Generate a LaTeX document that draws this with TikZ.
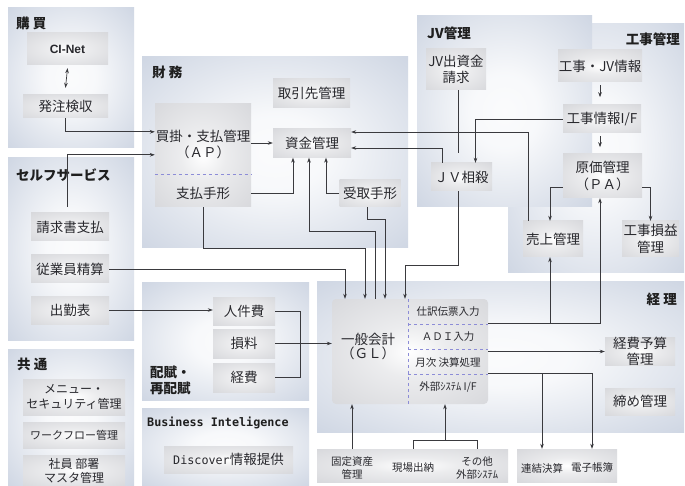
\documentclass[tikz,border=0pt]{standalone}
\usepackage{fontspec}
\setmainfont{Noto Sans CJK JP}
\setmonofont[Scale=0.87]{DejaVu Sans Mono}
\newfontfamily\arialfont{Liberation Sans}
\usetikzlibrary{arrows.meta,calc}
\definecolor{panelblue}{RGB}{203,211,225}
\definecolor{boxgray}{RGB}{212,213,217}
\definecolor{wiregray}{RGB}{58,58,62}
\definecolor{sepblue}{RGB}{140,140,215}
\definecolor{textgray}{RGB}{40,40,45}
\pgfdeclareradialshading{panelglow}{\pgfpointorigin}{color(0bp)=(white!92!panelblue); color(10bp)=(white!85!panelblue); color(38bp)=(panelblue); color(50bp)=(panelblue)}
\pgfdeclareradialshading{boxglow}{\pgfpointorigin}{color(0bp)=(white); color(12bp)=(white!55!boxgray); color(40bp)=(boxgray); color(50bp)=(boxgray)}
\begin{document}
\begin{tikzpicture}[x=1pt,y=-1pt,
    panel/.style={shading=panelglow},
    sz/.style 2 args={minimum width=#1pt,minimum height=#2pt},
    blk/.style={shade,shading=boxglow,inner sep=0pt,align=center,text=textgray,font=\fontsize{13.5}{16.5}\selectfont},
    lbl/.style={inner sep=0pt,align=center,text=textgray,font=\fontsize{13.5}{16.5}\selectfont},
    small/.style={font=\fontsize{10.5}{13}\selectfont},
    ttl/.style={inner sep=0pt,align=left,text=black!88,font=\bfseries\fontsize{13.5}{16}\selectfont},
    conn/.style={draw=wiregray,line width=0.7pt,>={Stealth[length=5pt,width=3.6pt]},->},
    wire/.style={draw=wiregray,line width=0.7pt},
    sep/.style={draw=sepblue,dashed,line width=0.6pt}]
\useasboundingbox (0,0) rectangle (685,486);
\fill[white] (0,0) rectangle (685,486);

\shade[panel] (8,8) rectangle (134,148);
\shade[panel] (8,158) rectangle (134,340);
\shade[panel] (8,349) rectangle (134,486);
\shade[panel] (142,57) rectangle (408,248);
\shade[panel] (142,283) rectangle (309,400);
\shade[panel] (142,408) rectangle (309,486);
\shade[panel] (317,282) rectangle (684,432);
\shade[panel] (508,24) rectangle (684,273);
\shade[panel] (417,16) rectangle (592,207);

\node[ttl,anchor=west] (t-kobai) at (16,23) {購 買};
\node[ttl,anchor=west] (t-self) at (16,175) {セルフサービス};
\node[ttl,anchor=west] (t-kyotsu) at (17,364) {共 通};
\node[ttl,anchor=west] (t-zaimu) at (152,72) {財 務};
\node[ttl,anchor=west] (t-haifu) at (150,380) {配賦・\\再配賦};
\node[ttl,anchor=west,font=\ttfamily\bfseries\fontsize{13.5}{16}\selectfont] (t-bi) at (147,423) {Business Inteligence};
\node[ttl,anchor=east] (t-keiri) at (677,299) {経 理};
\node[ttl,anchor=west] (t-jv) at (427,33) {JV管理};
\node[ttl,anchor=east] (t-koji) at (680,39) {工事管理};

\node[blk,sz={81}{32},font=\arialfont\bfseries\fontsize{12}{14}\selectfont] (cinet) at (67.5,49) {CI-Net};
\node[blk,sz={85}{23}] (hatchu) at (65.5,106.5) {発注検収};

\node[blk,sz={78}{28}] (seikyu) at (70,227) {請求書支払};
\node[blk,sz={78}{28}] (jugyoin) at (70,269) {従業員精算};
\node[blk,sz={78}{28}] (kinmu) at (70,310) {出勤表};

\node[blk,sz={102}{36},font=\fontsize{12}{15}\selectfont] (menu) at (74,397) {メニュー・\\セキュリティ管理};
\node[blk,sz={102}{26},font=\fontsize{11}{14}\selectfont] (workflow) at (74,435) {ワークフロー管理};
\node[blk,sz={102}{31},font=\fontsize{12}{14}\selectfont] (master) at (74,470.5) {社員 部署\\マスタ管理};

\node[blk,sz={96}{103}] (kaikake) at (203,155.5) {};
\node[lbl] (ap) at (203,144.5) {買掛・支払管理\\（ＡＰ）};
\node[lbl] (tegata) at (203,193) {支払手形};
\draw[sep] ([yshift=-18.5pt]kaikake.west) -- ([yshift=-18.5pt]kaikake.east);
\node[blk,sz={77}{29}] (torihiki) at (311.5,93) {取引先管理};
\node[blk,sz={78}{29}] (shikin) at (312,143) {資金管理};
\node[blk,sz={61}{27}] (uketori) at (370,193.5) {受取手形};

\node[blk,sz={62}{28}] (jinken) at (244,311) {人件費};
\node[blk,sz={62}{29}] (sonryo) at (244,343.5) {損料};
\node[blk,sz={62}{29}] (keihi) at (244,377.5) {経費};

\node[blk,sz={129}{27}] (discover) at (228.5,459.5) {{\ttfamily Discover}情報提供};

\node[blk,sz={60}{41}] (jvreq) at (456,69.5) {JV出資金\\請求};
\node[blk,sz={61}{28}] (jvsousai) at (461.5,177) {ＪＶ相殺};
\node[blk,sz={84}{32}] (kojijv) at (600,66) {工事・JV情報};
\node[blk,sz={78}{28}] (kojiif) at (602,119) {工事情報I/F};
\node[blk,sz={79}{44}] (genka) at (602.5,176) {原価管理\\（ＰＡ）};
\node[blk,sz={60}{36}] (uriage) at (553,239) {売上管理};
\node[blk,sz={57}{36}] (soneki) at (650.5,239) {工事損益\\管理};

\node[blk,sz={156}{105},rounded corners=4pt] (gl) at (410,351.5) {};
\node[lbl,font=\fontsize{13.5}{14}\selectfont] (glname) at (368,346) {一般会計\\（ＧＬ）};
\draw[sep] ([xshift=-2pt]gl.north) -- ([xshift=-2pt]gl.south);
\draw[sep] ([xshift=-2pt,yshift=-25pt]gl.north) -- ([yshift=-25pt]gl.north east);
\draw[sep] ([xshift=-2pt,yshift=-50pt]gl.north) -- ([yshift=-50pt]gl.north east);
\draw[sep] ([xshift=-2pt,yshift=-75pt]gl.north) -- ([yshift=-75pt]gl.north east);
\node[lbl,small] (shiwake) at (448,312) {仕訳伝票入力};
\node[lbl,small] (adi) at (448,337) {ＡＤＩ入力};
\node[lbl,small] (getsuji) at (448,362) {月次 決算処理};
\node[lbl,small] (gaibu) at (448,387) {外部ｼｽﾃﾑ I/F};
\node[blk,sz={70}{28},font=\fontsize{13.5}{15.5}\selectfont] (yosan) at (640,351.5) {経費予算\\管理};
\node[blk,sz={70}{27}] (shime) at (640,401.5) {締め管理};

\node[blk,sz={191}{33}] (koteibox) at (412.5,465.5) {};
\node[lbl,small] (kotei) at (352,468) {固定資産\\管理};
\node[lbl,small] (genba) at (413,468) {現場出納};
\node[lbl,small] (sonota) at (477,468) {その他\\外部ｼｽﾃﾑ};
\node[blk,sz={100}{33}] (renketsubox) at (567,465.5) {};
\node[lbl,small] (renketsu) at (542,468) {連結決算};
\node[lbl,small] (denshi) at (592,468) {電子帳簿};

\draw[conn,<->] ([yshift=-3pt]cinet.south) -- ([yshift=7pt]hatchu.north);
\draw[conn] (hatchu.south) |- ([yshift=-28pt]kaikake.north west);
\draw[conn] ([xshift=-3pt,yshift=6pt]seikyu.north) |- ([yshift=-51pt]kaikake.north west);
\draw[conn] (kaikake.east |- shikin.west) -- (shikin.west);
\draw[conn] (kaikake.east |- tegata) -| ([xshift=-19pt]shikin.south);
\draw[conn] (uketori.west) -| ([xshift=14pt]shikin.south);
\draw[conn] ([xshift=-35pt]gl.north) -- ++(0,-67) -| ([xshift=-3pt]shikin.south);
\draw[conn] (kaikake.south) -- ++(0,41) -| ([xshift=-45pt]gl.north);
\draw[conn] ([xshift=-3pt]uketori.south) -- ++(0,12) -| ([xshift=-25pt]gl.north);
\draw[conn] (jugyoin.east) -| ([xshift=-65pt]gl.north);
\draw[conn] ([xshift=-3pt]jvsousai.south) -- ++(0,74) -| ([xshift=-5pt]gl.north);
\draw[conn] ([xshift=-25pt]uriage.north) |- ([yshift=11pt]shikin.east);
\draw[conn] ([xshift=-19pt]jvsousai.north) |- ([yshift=-5pt]shikin.east);
\draw[wire,shorten >=10pt] ([xshift=2.5pt]jvreq.south) -- ([xshift=-3pt]jvsousai.north);
\draw[conn] (kojiif.west) -| ([xshift=14pt]jvsousai.north);
\draw[conn] ([yshift=-3pt]kojijv.south) -- ++(0,12);
\draw[conn] ([xshift=-2pt,yshift=-3pt]kojiif.south) -- ++(0,11);
\draw[conn] ([yshift=-11pt]genka.west) -| ([xshift=-3pt]uriage.north);
\draw[conn] ([yshift=-11pt]genka.east) -| (soneki.north);

\coordinate (gl-up) at ([yshift=-25pt]gl.north east);
\draw[conn] (gl-up) -| ([xshift=-2.5pt]genka.south);
\draw[conn] ($(uriage.south |- gl-up)+(-3,0)$) -- ([xshift=-3pt]uriage.south);
\draw[conn] (gl.east |- yosan.west) -- (yosan.west);
\coordinate (gl-down) at ([yshift=-75pt]gl.north east);
\draw[conn] (gl-down) -| (denshi |- renketsubox.north);
\draw[conn] (renketsu |- gl-down) -- (renketsu |- renketsubox.north);
\draw[conn] (kotei |- koteibox.north) -- (kotei |- gl.south);
\coordinate (genba-join) at ($(genba |- koteibox.north)!0.5!(sonota |- koteibox.north)+(0,-8)$);
\draw[wire] (genba |- koteibox.north) |- (genba-join) -| (sonota |- koteibox.north);
\draw[conn] (genba-join) -- (genba-join |- gl.south);
\draw[conn] (sonryo.east) -- (sonryo.east -| gl.west);
\draw[wire] (jinken.east) -- ++(25,0) |- (keihi.east);
\draw[conn] (kinmu.east) -- (kinmu.east -| jinken.west);
\end{tikzpicture}
\end{document}
